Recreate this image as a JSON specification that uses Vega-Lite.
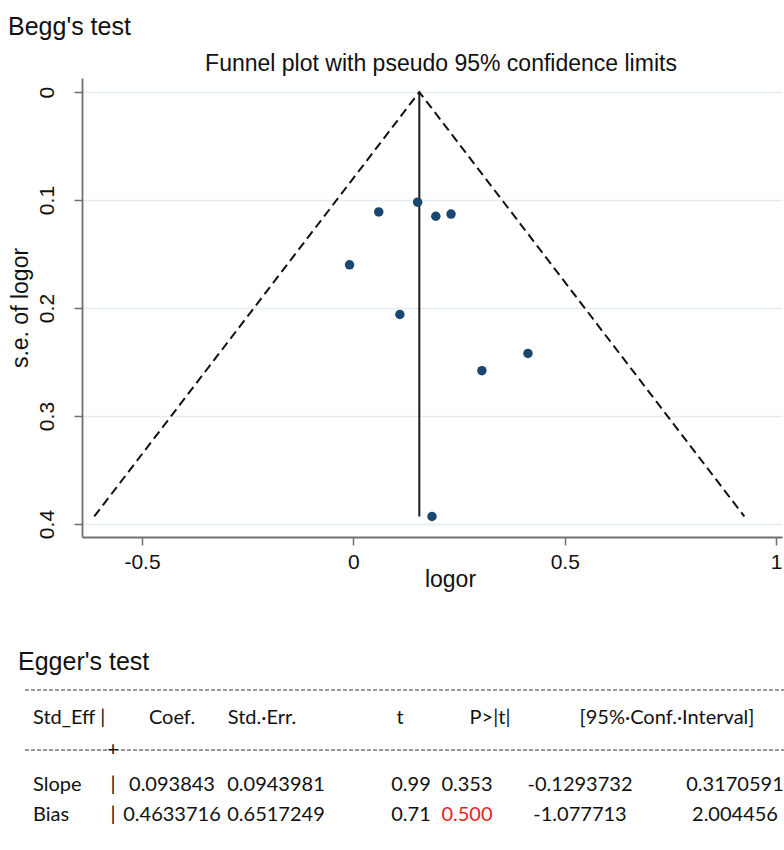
{
  "$schema": "https://vega.github.io/schema/vega-lite/v6.json",
  "width": 700,
  "height": 459,
  "autosize": {"type": "none"},
  "padding": {"left": 82, "top": 78, "right": 2, "bottom": 313},
  "background": "white",
  "config": {"view": {"stroke": null}},
  "datasets": {
    "studies": [
      {"logor": 0.152, "se": 0.102},
      {"logor": 0.060, "se": 0.111},
      {"logor": 0.195, "se": 0.115},
      {"logor": 0.231, "se": 0.113},
      {"logor": -0.009, "se": 0.160},
      {"logor": 0.110, "se": 0.206},
      {"logor": 0.304, "se": 0.258},
      {"logor": 0.413, "se": 0.242},
      {"logor": 0.186, "se": 0.393}
    ],
    "funnel": [
      {"logor": -0.613, "se": 0.393, "ord": 1},
      {"logor": 0.156, "se": 0.0, "ord": 2},
      {"logor": 0.925, "se": 0.393, "ord": 3}
    ],
    "pooled": [
      {"logor": 0.156, "se_min": 0.0, "se_max": 0.393}
    ],
    "dashes": [
      {"line_no": 3, "from": 2, "to": 16},
      {"line_no": 5, "from": 2, "to": 16}
    ],
    "cells": [
      {"line_no": 0, "col_no": 0, "text": "Begg's test"},
      {"line_no": 1, "col_no": 10, "text": "Funnel plot with pseudo 95% confidence limits"},
      {"line_no": 2, "col_no": 1, "text": "Egger's test"},
      {"line_no": 4, "col_no": 3, "text": "Std_Eff |"},
      {"line_no": 4, "col_no": 5, "text": "Coef."},
      {"line_no": 4, "col_no": 6, "text": "Std.·Err."},
      {"line_no": 4, "col_no": 8, "text": "t"},
      {"line_no": 4, "col_no": 12, "text": "P>|t|"},
      {"line_no": 4, "col_no": 14, "text": "[95%·Conf.·Interval]"},
      {"line_no": 5, "col_no": 4, "text": "+"},
      {"line_no": 6, "col_no": 3, "text": "Slope"},
      {"line_no": 6, "col_no": 4, "text": "|"},
      {"line_no": 6, "col_no": 5, "text": "0.093843"},
      {"line_no": 6, "col_no": 7, "text": "0.0943981"},
      {"line_no": 6, "col_no": 9, "text": "0.99"},
      {"line_no": 6, "col_no": 11, "text": "0.353"},
      {"line_no": 6, "col_no": 13, "text": "-0.1293732"},
      {"line_no": 6, "col_no": 15, "text": "0.3170591"},
      {"line_no": 7, "col_no": 3, "text": "Bias"},
      {"line_no": 7, "col_no": 4, "text": "|"},
      {"line_no": 7, "col_no": 5, "text": "0.4633716"},
      {"line_no": 7, "col_no": 7, "text": "0.6517249"},
      {"line_no": 7, "col_no": 9, "text": "0.71"},
      {"line_no": 7, "col_no": 11, "text": "0.500"},
      {"line_no": 7, "col_no": 13, "text": "-1.077713"},
      {"line_no": 7, "col_no": 15, "text": "2.004456"}
    ]
  },
  "layer": [
    {
      "layer": [
        {
          "data": {"name": "funnel"},
          "mark": {"type": "line", "color": "#111111", "strokeWidth": 2, "strokeDash": [9, 5]},
          "encoding": {
            "x": {
              "field": "logor", "type": "quantitative",
              "scale": {"domain": [-0.642, 1.014], "nice": false, "zero": false},
              "axis": {
                "title": "logor",
                "values": [-0.5, 0, 0.5, 1],
                "labelExpr": "replace(format(datum.value, '~g'), '\u2212', '-')",
                "grid": false,
                "domainColor": "#707070", "domainWidth": 1.8,
                "tickColor": "#707070", "tickWidth": 1.5, "tickSize": 8,
                "labelFont": "Liberation Sans", "labelFontSize": 21, "labelColor": "#111111", "labelPadding": 6,
                "labelFlush": false,
                "titleFont": "Liberation Sans", "titleFontSize": 23, "titleFontWeight": "normal", "titleColor": "#111111", "titlePadding": -4,
                "titleX": 368
              }
            },
            "y": {
              "field": "se", "type": "quantitative",
              "scale": {"domain": [-0.013, 0.412], "reverse": true, "nice": false, "zero": false},
              "axis": {
                "title": "s.e. of logor",
                "values": [0, 0.1, 0.2, 0.3, 0.4],
                "labelExpr": "replace(format(datum.value, '~g'), '\u2212', '-')",
                "grid": true, "gridColor": "#e3edf0", "gridWidth": 1.5,
                "domainColor": "#707070", "domainWidth": 1.8,
                "tickColor": "#707070", "tickWidth": 1.5, "tickSize": 8,
                "labelAngle": 270,
                "labelFont": "Liberation Sans", "labelFontSize": 21, "labelColor": "#111111", "labelPadding": 17,
                "labelFlush": false,
                "titleFont": "Liberation Sans", "titleFontSize": 23, "titleFontWeight": "normal", "titleColor": "#111111", "titlePadding": 4
              }
            },
            "order": {"field": "ord", "type": "quantitative"}
          }
        },
        {
          "data": {"name": "pooled"},
          "mark": {"type": "rule", "color": "#1a1a1a", "strokeWidth": 2},
          "encoding": {
            "x": {"field": "logor", "type": "quantitative"},
            "y": {"field": "se_min", "type": "quantitative"},
            "y2": {"field": "se_max"}
          }
        },
        {
          "data": {"name": "studies"},
          "mark": {"type": "circle", "size": 90, "color": "#1a476f", "opacity": 1},
          "encoding": {
            "x": {"field": "logor", "type": "quantitative"},
            "y": {"field": "se", "type": "quantitative"}
          }
        }
      ]
    },
    {
      "layer": [
        {
          "data": {"name": "dashes"},
          "mark": {"type": "rule", "color": "#333333", "strokeWidth": 1, "strokeDash": [4, 2]},
          "encoding": {
            "x": {
              "field": "from", "type": "quantitative", "axis": null,
              "scale": {"domain": [0, 1, 2, 3, 4, 5, 6, 7, 8, 9, 10, 11, 12, 13, 14, 15, 16], "range": [-74, -64, -57, -49, 31, 90, 180, 194, 318, 329, 359, 385, 408, 498, 585, 653, 702], "nice": false, "zero": false}
            },
            "x2": {"field": "to"},
            "y": {
              "field": "line_no", "type": "quantitative", "axis": null,
              "scale": {"domain": [0, 1, 2, 3, 4, 5, 6, 7], "range": [-51, -14, 584, 612, 640, 672, 707, 737], "nice": false, "zero": false}
            }
          }
        },
        {
          "data": {"name": "cells"},
          "transform": [{"filter": "datum.line_no == 0 || datum.line_no == 2"}],
          "mark": {"type": "text", "align": "left", "baseline": "middle", "font": "Liberation Sans", "fontSize": 25, "color": "#111111"},
          "encoding": {
            "x": {"field": "col_no", "type": "quantitative"},
            "y": {"field": "line_no", "type": "quantitative"},
            "text": {"field": "text"}
          }
        },
        {
          "data": {"name": "cells"},
          "transform": [{"filter": "datum.line_no == 1"}],
          "mark": {"type": "text", "align": "center", "baseline": "middle", "font": "Liberation Sans", "fontSize": 23, "color": "#111111"},
          "encoding": {
            "x": {"field": "col_no", "type": "quantitative"},
            "y": {"field": "line_no", "type": "quantitative"},
            "text": {"field": "text"}
          }
        },
        {
          "data": {"name": "cells"},
          "transform": [{"filter": "datum.line_no >= 3 && datum.col_no == 3"}],
          "mark": {"type": "text", "align": "left", "baseline": "middle", "font": "Lato", "fontSize": 20, "color": "#111111"},
          "encoding": {
            "x": {"field": "col_no", "type": "quantitative"},
            "y": {"field": "line_no", "type": "quantitative"},
            "text": {"field": "text"}
          }
        },
        {
          "data": {"name": "cells"},
          "transform": [{"filter": "datum.line_no >= 3 && datum.col_no != 3"}],
          "mark": {"type": "text", "align": "center", "baseline": "middle", "font": "Lato", "fontSize": 20},
          "encoding": {
            "x": {"field": "col_no", "type": "quantitative"},
            "y": {"field": "line_no", "type": "quantitative"},
            "text": {"field": "text"},
            "color": {
              "condition": {"test": "datum.line_no == 7 && datum.col_no == 11", "value": "#e8231f"},
              "value": "#111111"
            }
          }
        }
      ]
    }
  ],
  "resolve": {
    "scale": {"x": "independent", "y": "independent"},
    "axis": {"x": "independent", "y": "independent"}
  }
}
